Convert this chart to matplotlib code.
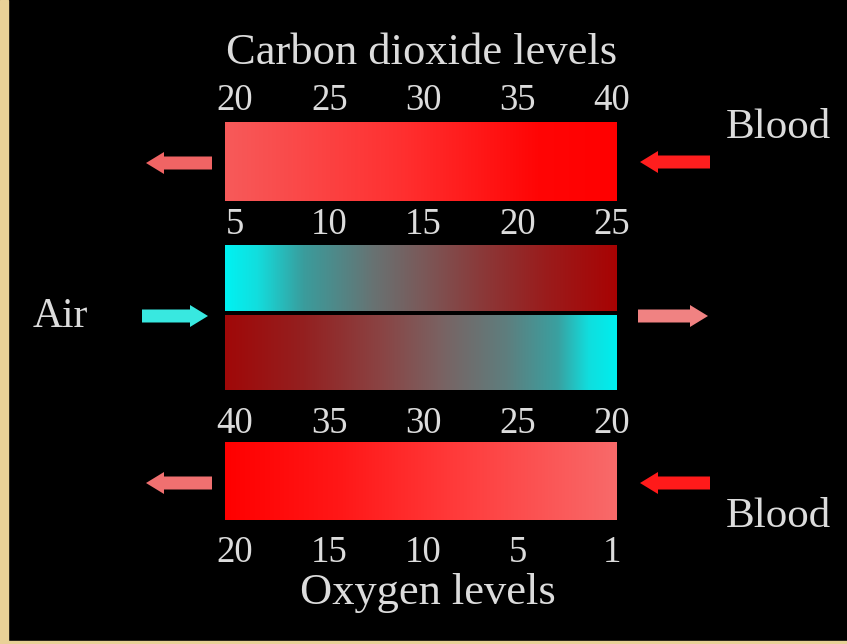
import numpy as np
import matplotlib
matplotlib.use("Agg")
import matplotlib.pyplot as plt
from matplotlib.colors import LinearSegmentedColormap
from matplotlib.patches import FancyArrow, Rectangle

# ---------------- data ----------------
co2_title = "Carbon dioxide levels"
o2_title = "Oxygen levels"
co2_blood_in_labels = ["20", "25", "30", "35", "40"]     # above top bar
co2_air_labels = ["5", "10", "15", "20", "25"]           # above air (CO2) bar
co2_blood_out_labels = ["40", "35", "30", "25", "20"]    # above bottom bar
o2_blood_labels = ["20", "15", "10", "5", "1"]           # below bottom bar
side_labels = ["Blood", "Air", "Blood"]

# gradient stops (position, colour) for each band
band_co2_blood = [(0.0, "#f75a5a"), (0.45, "#ff3030"), (0.8, "#ff0505"), (1.0, "#ff0000")]
band_co2_air = [(0.0, "#00f2f2"), (0.08, "#12dede"), (0.2, "#3a9c9c"), (0.38, "#687272"),
                (0.5, "#7a5a5a"), (0.65, "#8a3a3a"), (0.82, "#9a1c1c"), (1.0, "#a80303")]
band_o2_air = [(0.0, "#a00808"), (0.2, "#942020"), (0.4, "#8a4444"), (0.55, "#7a6262"),
               (0.72, "#5e7e7e"), (0.85, "#3aa0a0"), (0.93, "#10dede"), (1.0, "#00eeee")]
band_o2_blood = [(0.0, "#ff0000"), (0.3, "#ff1818"), (0.6, "#ff3c3c"), (1.0, "#f86a6a")]

# ---------------- layout ----------------
W, H = 847, 644
fig = plt.figure(figsize=(W / 100, H / 100), dpi=100, facecolor="black")
ax = fig.add_axes([0, 0, 1, 1])
ax.set_xlim(0, W)
ax.set_ylim(H, 0)
ax.set_facecolor("black")
ax.axis("off")

gold = "#e9d197"
ax.add_patch(Rectangle((0, 0), 8, H, color=gold, zorder=5))
ax.add_patch(Rectangle((0, 641), W, 3, color=gold, zorder=5))

serif = ["Liberation Serif", "DejaVu Serif"]
txt = "#dcdcdc"

x0, x1 = 225, 617
bands = [
    (band_co2_blood, 122, 201),
    (band_co2_air, 245, 311),
    (band_o2_air, 315, 390),
    (band_o2_blood, 442, 520),
]
grad = np.linspace(0, 1, 512)[None, :]
for i, (stops, top, bot) in enumerate(bands):
    cmap = LinearSegmentedColormap.from_list(f"band{i}", stops)
    ax.imshow(grad, cmap=cmap, aspect="auto", extent=(x0, x1, bot, top),
              interpolation="bilinear", zorder=2)

# tick label rows
label_rows = [
    (co2_blood_in_labels, 110),
    (co2_air_labels, 234),
    (co2_blood_out_labels, 433),
    (o2_blood_labels, 562),
]
for labels, base in label_rows:
    xs = np.linspace(235, 612, len(labels))
    for x, lab in zip(xs, labels):
        ax.text(x, base, lab, ha="center", va="baseline", color=txt,
                fontsize=26.5, family=serif, zorder=4)

ax.text(422, 64, co2_title, ha="center", va="baseline", color=txt,
        fontsize=32, family=serif)
ax.text(428, 604, o2_title, ha="center", va="baseline", color=txt,
        fontsize=32, family=serif)

ax.text(726, 138, side_labels[0], ha="left", va="baseline", color=txt,
        fontsize=31, family=serif)
ax.text(33, 327, side_labels[1], ha="left", va="baseline", color=txt,
        fontsize=30, family=serif)
ax.text(726, 527, side_labels[2], ha="left", va="baseline", color=txt,
        fontsize=31, family=serif)

# arrows: (tail x, y, dx, colour)
arrows = [
    (212, 163, -66, "#f06464"),
    (710, 162, -70, "#ff1e1e"),
    (142, 316, 66, "#38e8e0"),
    (638, 316, 70, "#f08282"),
    (212, 483, -66, "#f07070"),
    (710, 483, -70, "#ff1a1a"),
]
for xt, yt, dx, col in arrows:
    ax.add_patch(FancyArrow(xt, yt, dx, 0, width=13, head_width=22, head_length=18,
                            length_includes_head=True, color=col, lw=0, zorder=3))

fig.savefig("out.png", dpi=100, facecolor="black")
